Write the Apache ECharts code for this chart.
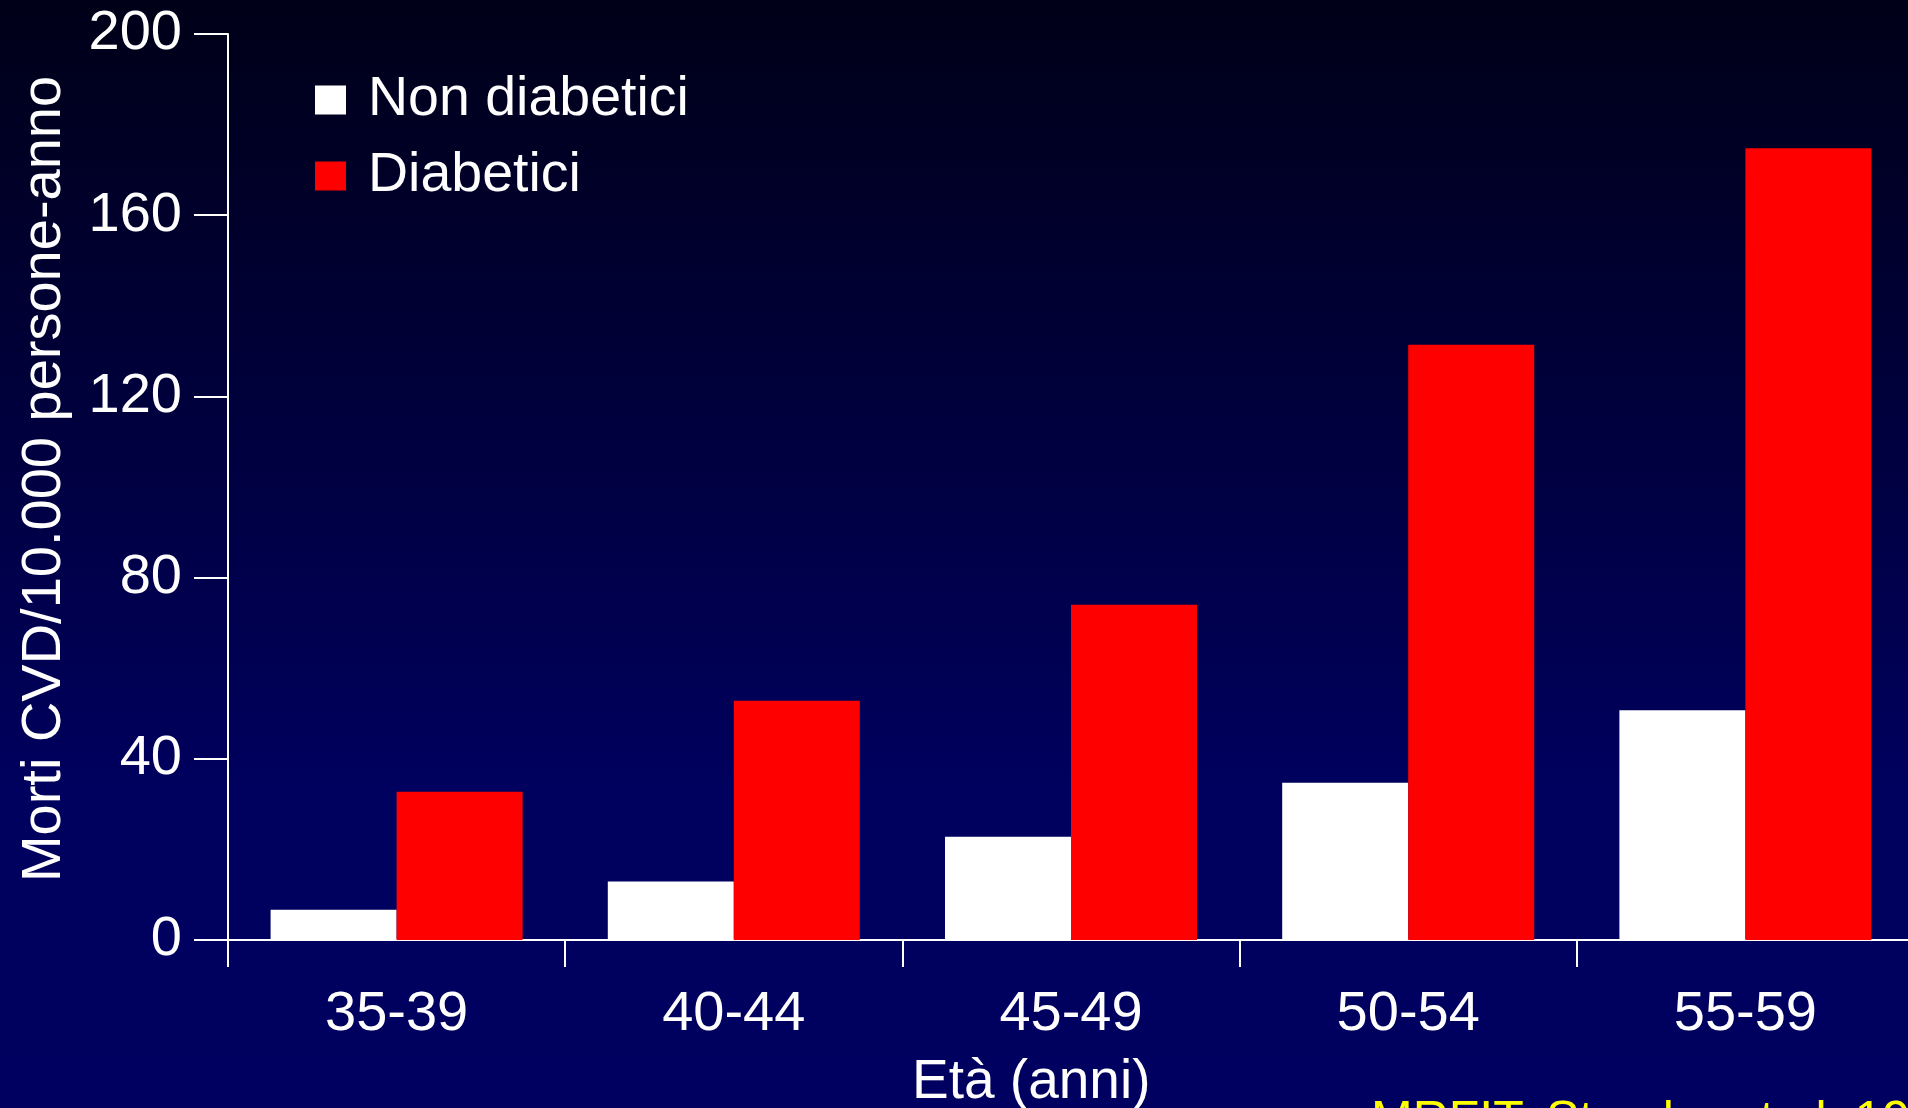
<!DOCTYPE html>
<html>
<head>
<meta charset="utf-8">
<script src="https://cdn.jsdelivr.net/npm/echarts@6/dist/echarts.min.js"></script>
<style>
html,body{margin:0;padding:0;width:1908px;height:1108px;overflow:hidden;background:#000040;}
#chart{width:1908px;height:1108px;}
</style>
</head>
<body>
<div id="chart"></div>
<script>
const categories = ['35-39', '40-44', '45-49', '50-54', '55-59'];
const nonDiabetici = [6.7, 12.9, 22.8, 34.7, 50.7];
const diabetici = [32.7, 52.8, 74.0, 131.4, 174.8];
const seriesNames = ['Non diabetici', 'Diabetici'];
const yAxisTitle = 'Morti CVD/10.000 persone-anno';
const xAxisTitle = 'Età (anni)';
const sourceNote = 'MRFIT, Stamler et al. 1993';

const FONT = '"Liberation Sans", Arial, sans-serif';
const chart = echarts.init(document.getElementById('chart'), null, {renderer: 'canvas'});
chart.setOption({
  animation: false,
  backgroundColor: {
    type: 'linear', x: 0, y: 0, x2: 0, y2: 1,
    colorStops: [
      {offset: 0, color: '#000018'},
      {offset: 0.72, color: '#00005f'},
      {offset: 1, color: '#000060'}
    ]
  },
  textStyle: {fontFamily: FONT},
  grid: {left: 228, top: 34, width: 1686, height: 906, containLabel: false, outerBoundsMode: 'none'},
  legend: {
    orient: 'vertical',
    left: 310, top: 67,
    itemWidth: 31, itemHeight: 29,
    itemGap: 20,
    icon: 'rect',
    textStyle: {color: '#ffffff', fontSize: 55.5, fontFamily: FONT, lineHeight: 55, padding: [0, 0, 0, 17]},
    data: seriesNames
  },
  xAxis: {
    type: 'category',
    data: categories,
    boundaryGap: true,
    axisLine: {show: true, lineStyle: {color: '#ffffff', width: 2}},
    axisTick: {show: true, length: 27, lineStyle: {color: '#ffffff', width: 2}},
    axisLabel: {color: '#ffffff', fontSize: 56, fontFamily: FONT, margin: 47}
  },
  yAxis: {
    type: 'value',
    min: 0, max: 200, interval: 40,
    name: yAxisTitle,
    nameLocation: 'middle',
    nameGap: 155,
    nameTextStyle: {color: '#ffffff', fontSize: 56, fontFamily: FONT, padding: [0, 0, 0, 16]},
    splitLine: {show: false},
    axisLine: {show: true, lineStyle: {color: '#ffffff', width: 2}},
    axisTick: {show: true, inside: false, length: 34, lineStyle: {color: '#ffffff', width: 2}},
    axisLabel: {color: '#ffffff', fontSize: 56, fontFamily: FONT, margin: 46}
  },
  series: [
    {name: seriesNames[0], type: 'bar', data: nonDiabetici, barWidth: 126, barGap: '0%',
     itemStyle: {color: '#ffffff'}},
    {name: seriesNames[1], type: 'bar', data: diabetici, barWidth: 126, barGap: '0%',
     itemStyle: {color: '#ff0000'}}
  ],
  graphic: [
    {type: 'text', left: 912, top: 1055,
     style: {text: xAxisTitle, fill: '#ffffff', font: '55px ' + FONT}},
    {type: 'text', left: 1371, top: 1097,
     style: {text: sourceNote, fill: '#ffff00', font: '50px ' + FONT}}
  ]
});
</script>
</body>
</html>
